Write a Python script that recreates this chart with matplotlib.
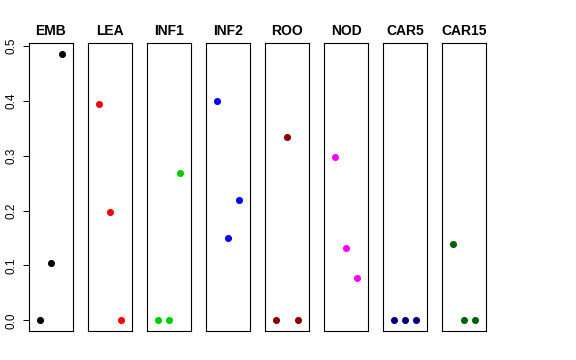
import matplotlib
matplotlib.use("Agg")
import matplotlib.pyplot as plt
import numpy as np

plt.rcParams["font.family"] = ["Liberation Sans", "DejaVu Sans"]

# tissues and their three values
tissues = ["EMB", "LEA", "INF1", "INF2", "ROO", "NOD", "CAR5", "CAR15"]
colors = ["black", "red", "#00CD00", "blue", "#8B0000", "magenta", "#000080", "#006400"]
emb = [0.0, 0.104, 0.486]
lea = [0.394, 0.197, 0.0]
inf1 = [0.0, 0.0, 0.268]
inf2 = [0.400, 0.150, 0.219]
roo = [0.0, 0.334, 0.0]
nod = [0.297, 0.131, 0.078]
car5 = [0.0, 0.0, 0.0]
car15 = [0.140, 0.0, 0.0]
values = [emb, lea, inf1, inf2, roo, nod, car5, car15]
xs = [1, 2, 3]
yticks = [0.0, 0.1, 0.2, 0.3, 0.4, 0.5]

W, H = 576, 360
fig = plt.figure(figsize=(W / 100, H / 100), dpi=100)

ymax = max(max(v) for v in values)
pad = 0.04 * ymax
for i, (name, col, vals) in enumerate(zip(tissues, colors, values)):
    left = 29 + 59 * i
    ax = fig.add_axes([left / W, (H - 331) / H, 44 / W, 288 / H])
    ax.scatter(xs, vals, s=26, color=col, linewidths=0, zorder=3)
    ax.set_xlim(0, 4)
    ax.set_ylim(-pad, ymax + pad)
    ax.set_xticks([])
    for sp in ax.spines.values():
        sp.set_linewidth(0.8)
        sp.set_color("black")
    ax.set_title(name, fontsize=10, fontweight="bold", pad=6)
    if i == 0:
        ax.set_yticks(yticks)
        ax.set_yticklabels([f"{t:.1f}" for t in yticks], rotation=90, va="center", fontsize=8.5)
        ax.tick_params(axis="y", length=4, width=0.7, pad=4)
    else:
        ax.set_yticks([])

fig.savefig("out.png", dpi=100)
